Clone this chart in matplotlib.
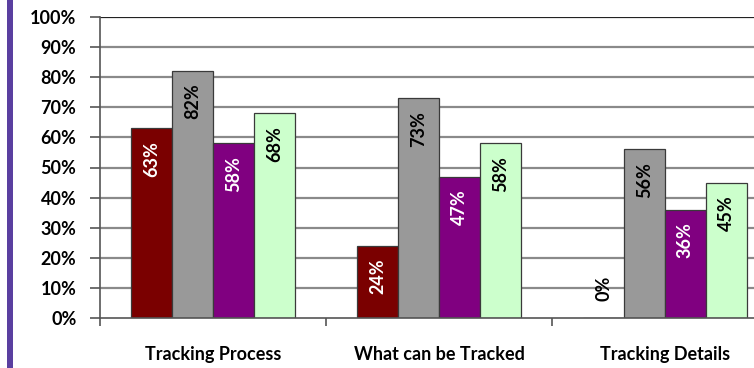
import matplotlib.pyplot as plt
from matplotlib.patches import Rectangle
from matplotlib.ticker import FixedLocator, PercentFormatter

categories = ['Tracking Process', 'What can be Tracked', 'Tracking Details']
series_a = [63, 24, 0]
series_b = [82, 73, 56]
series_c = [58, 47, 36]
series_d = [68, 58, 45]

COLORS = ['#7a0000', '#999999', '#800080', '#ccffcc']
TEXT_COLORS = ['white', 'black', 'white', 'black']
BAR_WIDTH = 0.181

plt.rcParams['font.family'] = ['Lato', 'DejaVu Sans']
plt.rcParams['font.weight'] = 'bold'

fig = plt.figure(figsize=(7.54, 3.68), dpi=100)
ax = fig.add_axes([100 / 754, 50 / 368, 654 / 754, 301 / 368])

# decorative stripe down the left edge
fig.add_artist(Rectangle((7 / 754, 0), 6 / 754, 1, transform=fig.transFigure,
                         color='#5a3fa0', lw=0))

all_series = [series_a, series_b, series_c, series_d]
for i, values in enumerate(all_series):
  xs = [c + (i - 1.5) * BAR_WIDTH for c in range(len(categories))]
  bars = ax.bar(xs, values, width=BAR_WIDTH, color=COLORS[i],
                edgecolor='#3a3a3a', linewidth=0.9, zorder=3)
  for bar, v in zip(bars, values):
    cx = bar.get_x() + bar.get_width() / 2
    if v == 0:
      ax.annotate('%d%%' % v, (cx, 0), xytext=(0, 12), textcoords='offset points',
                  rotation=90, ha='center', va='bottom', fontsize=13,
                  fontweight='bold', color='black', zorder=4)
    else:
      ax.annotate('%d%%' % v, (cx, v), xytext=(0, -9), textcoords='offset points',
                  rotation=90, ha='center', va='top', fontsize=13,
                  fontweight='bold', color=TEXT_COLORS[i], zorder=4)

ax.set_xlim(-0.5, 654 / 226 - 0.5)
ax.set_ylim(0, 100)
ax.yaxis.set_major_locator(FixedLocator(range(0, 101, 10)))
ax.yaxis.set_major_formatter(PercentFormatter(decimals=0))

for y in range(10, 101, 10):
  ax.axhline(y, color='#222222' if y == 100 else '#8a8a8a', lw=1.6, zorder=1)

ax.set_xticks(range(len(categories)))
ax.set_xticklabels(categories)
ax.xaxis.set_minor_locator(FixedLocator([-0.5, 0.5, 1.5]))
ax.tick_params(axis='x', which='major', length=0, pad=20, labelsize=13)
ax.tick_params(axis='x', which='minor', length=6, width=1.2, color='#555555', direction='out')
ax.tick_params(axis='y', length=7, width=1.2, color='#555555', pad=10, labelsize=13)

for side in ['top', 'right']:
  ax.spines[side].set_visible(False)
ax.spines['left'].set_color('#555555')
ax.spines['left'].set_linewidth(1.2)
ax.spines['bottom'].set_color('#555555')
ax.spines['bottom'].set_linewidth(1.2)
ax.spines['bottom'].set_zorder(5)

fig.savefig('out.png', dpi=100)
